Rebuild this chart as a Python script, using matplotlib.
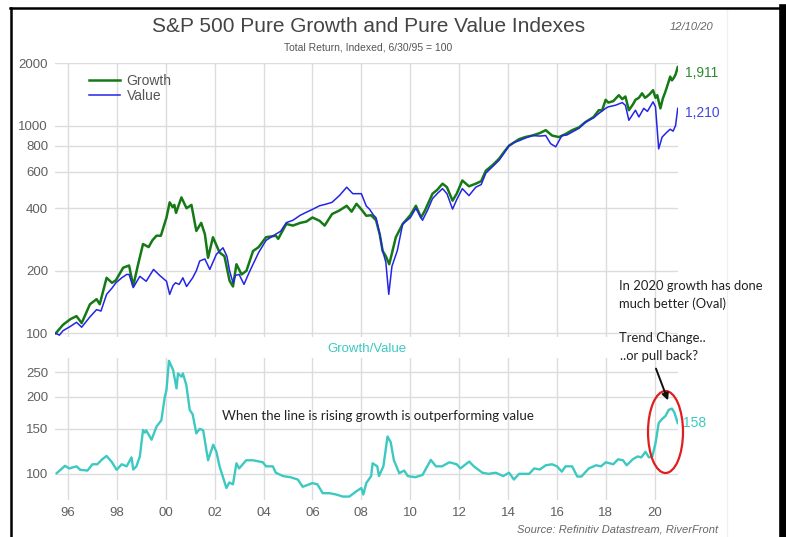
import matplotlib
matplotlib.use("Agg")
import matplotlib.pyplot as plt
from matplotlib.patches import Ellipse
from matplotlib.lines import Line2D
from matplotlib.ticker import FixedLocator, NullLocator, NullFormatter

# ---------------- data ----------------
growth_t = [1995.50, 1995.80, 1996.10, 1996.35, 1996.56, 1996.90, 1997.17, 1997.30, 1997.58, 1997.80,
            1997.96, 1998.26, 1998.50, 1998.67, 1998.85, 1999.07, 1999.30, 1999.45, 1999.62, 1999.80,
            2000.03, 2000.16, 2000.28, 2000.35, 2000.42, 2000.64, 2000.85, 2001.05, 2001.25, 2001.45,
            2001.60, 2001.73, 2001.93, 2002.20, 2002.40, 2002.61, 2002.75, 2002.89, 2003.10, 2003.30,
            2003.57, 2003.80, 2004.10, 2004.50, 2004.60, 2004.93, 2005.20, 2005.50, 2005.75, 2006.00,
            2006.29, 2006.50, 2006.80, 2007.10, 2007.40, 2007.60, 2007.80, 2008.00, 2008.20, 2008.40,
            2008.60, 2008.75, 2008.87, 2009.00, 2009.14, 2009.41, 2009.69, 2010.00, 2010.23, 2010.44,
            2010.60, 2010.91, 2011.10, 2011.32, 2011.50, 2011.73, 2011.90, 2012.13, 2012.40, 2012.68,
            2012.90, 2013.09, 2013.40, 2013.63, 2013.85, 2014.04, 2014.25, 2014.45, 2014.70, 2014.99,
            2015.30, 2015.54, 2015.80, 2016.08, 2016.35, 2016.62, 2016.90, 2017.17, 2017.50, 2017.71,
            2017.85, 2017.99, 2018.10, 2018.30, 2018.53, 2018.67, 2018.80, 2018.94, 2019.10, 2019.21,
            2019.35, 2019.48, 2019.60, 2019.68, 2019.80, 2019.93, 2020.03, 2020.10, 2020.23, 2020.33,
            2020.43, 2020.57, 2020.63, 2020.70, 2020.77, 2020.85, 2020.94]
growth_v = [100, 110, 117, 121, 112, 138, 146, 138, 185, 175,
            180, 207, 212, 169, 210, 269, 260, 280, 295, 295,
            361, 427, 405, 415, 380, 451, 400, 415, 311, 340,
            300, 231, 290, 245, 235, 179, 168, 215, 192, 200,
            249, 260, 290, 295, 285, 336, 330, 340, 345, 361,
            348, 330, 375, 390, 411, 385, 420, 395, 368, 370,
            350, 300, 249, 235, 215, 290, 336, 370, 411, 361,
            390, 470, 490, 525, 505, 435, 470, 544, 510, 525,
            540, 606, 650, 692, 750, 800, 830, 860, 880, 895,
            920, 950, 895, 880, 910, 950, 980, 1040, 1100, 1185,
            1185, 1330, 1290, 1310, 1400, 1340, 1380, 1185, 1260, 1330,
            1360, 1430, 1360, 1380, 1420, 1480, 1360, 1400, 1210, 1350,
            1450, 1630, 1720, 1650, 1690, 1760, 1911]

value_t = [1995.50, 1995.65, 1995.80, 1996.10, 1996.35, 1996.56, 1996.90, 1997.17, 1997.35, 1997.58,
           1997.80, 1997.96, 1998.20, 1998.40, 1998.50, 1998.67, 1998.94, 1999.20, 1999.50, 1999.75,
           2000.03, 2000.16, 2000.30, 2000.40, 2000.55, 2000.70, 2000.85, 2001.10, 2001.25, 2001.39,
           2001.60, 2001.80, 2002.07, 2002.34, 2002.50, 2002.61, 2002.75, 2002.85, 2003.00, 2003.20,
           2003.40, 2003.57, 2003.80, 2004.10, 2004.30, 2004.50, 2004.70, 2004.93, 2005.20, 2005.50,
           2005.74, 2006.00, 2006.29, 2006.60, 2006.80, 2007.10, 2007.40, 2007.65, 2008.00, 2008.20,
           2008.33, 2008.50, 2008.60, 2008.75, 2008.87, 2009.00, 2009.12, 2009.25, 2009.47, 2009.69,
           2010.00, 2010.23, 2010.50, 2010.70, 2010.91, 2011.10, 2011.32, 2011.50, 2011.73, 2011.90,
           2012.13, 2012.40, 2012.68, 2012.90, 2013.09, 2013.40, 2013.63, 2013.85, 2014.04, 2014.25,
           2014.45, 2014.70, 2014.99, 2015.30, 2015.54, 2015.74, 2015.95, 2016.20, 2016.40, 2016.62,
           2016.90, 2017.17, 2017.50, 2017.71, 2017.99, 2018.10, 2018.40, 2018.67, 2018.80, 2018.94,
           2019.21, 2019.35, 2019.55, 2019.70, 2019.93, 2020.03, 2020.16, 2020.30, 2020.50, 2020.63,
           2020.75, 2020.85, 2020.94]
value_v = [100, 98, 103, 108, 113, 107, 120, 130, 128, 154,
           165, 175, 185, 192, 192, 166, 188, 178, 203, 190,
           178, 154, 170, 175, 172, 185, 168, 185, 200, 223,
           228, 203, 240, 258, 235, 200, 175, 190, 192, 172,
           195, 215, 245, 280, 290, 300, 310, 341, 350, 370,
           382, 395, 411, 420, 427, 460, 505, 470, 470, 410,
           396, 370, 360, 300, 250, 220, 154, 210, 250, 336,
           360, 400, 350, 390, 445, 470, 497, 470, 396, 440,
           497, 460, 505, 520, 590, 640, 680, 740, 800, 830,
           845, 870, 895, 890, 895, 818, 790, 895, 900, 930,
           970, 1040, 1090, 1143, 1210, 1230, 1253, 1290, 1250, 1060,
           1185, 1100, 1210, 1170, 1300, 1230, 772, 880, 930, 960,
           940, 1000, 1210]

ratio_t = [1995.54, 1995.88, 1996.05, 1996.20, 1996.35, 1996.50, 1996.80, 1997.00, 1997.20, 1997.40,
           1997.58, 1997.80, 1997.99, 1998.20, 1998.40, 1998.60, 1998.67, 1998.80, 1998.94, 1999.07,
           1999.15, 1999.20, 1999.42, 1999.62, 1999.82, 1999.96, 2000.03, 2000.13, 2000.30, 2000.44,
           2000.50, 2000.64, 2000.70, 2000.84, 2000.98, 2001.10, 2001.25, 2001.39, 2001.53, 2001.73,
           2001.94, 2002.07, 2002.20, 2002.48, 2002.60, 2002.75, 2002.89, 2003.00, 2003.29, 2003.57,
           2003.97, 2004.10, 2004.38, 2004.50, 2004.80, 2005.10, 2005.40, 2005.60, 2006.00, 2006.20,
           2006.42, 2006.70, 2006.97, 2007.24, 2007.51, 2007.80, 2008.00, 2008.08, 2008.20, 2008.40,
           2008.46, 2008.65, 2008.72, 2008.90, 2009.07, 2009.20, 2009.33, 2009.55, 2009.75, 2009.90,
           2010.20, 2010.50, 2010.84, 2011.05, 2011.30, 2011.60, 2011.90, 2012.05, 2012.41, 2012.60,
           2012.95, 2013.20, 2013.50, 2013.80, 2014.04, 2014.24, 2014.45, 2014.86, 2015.07, 2015.30,
           2015.54, 2015.80, 2016.00, 2016.20, 2016.35, 2016.62, 2016.83, 2017.00, 2017.30, 2017.60,
           2017.80, 2018.00, 2018.30, 2018.50, 2018.70, 2018.85, 2019.10, 2019.30, 2019.45, 2019.62,
           2019.76, 2019.90, 2020.03, 2020.16, 2020.30, 2020.43, 2020.57, 2020.70, 2020.80, 2020.94]
ratio_v = [100.6, 107.5, 105, 106, 107, 103.7, 103, 109, 109, 114,
           117.5, 111, 103.7, 109, 107, 116, 104, 107, 117, 148.5,
           145, 148, 136, 153, 162, 200, 213, 277, 255, 216,
           247, 240, 247, 223, 178, 171, 144, 150, 148, 113,
           130, 122, 107, 88, 92.5, 91, 110, 105, 113, 113,
           111, 107, 107, 101, 98, 97, 95, 89, 92, 91,
           84, 84, 83, 81.5, 81.5, 85.5, 88, 83, 92, 98,
           110, 107, 98, 107, 140, 133, 113, 100.6, 103, 98,
           97, 99, 113.4, 107, 107, 111, 109, 105, 111.7, 107,
           101, 100, 101, 98, 101, 95, 100, 100, 105, 104,
           108, 109, 107, 102, 107, 107, 97.6, 97.6, 105, 108,
           107, 111, 109, 114, 113, 108, 114, 117, 116, 122,
           116, 117, 131.8, 158, 164, 168, 178, 180, 174, 158]

year_ticks = [1996, 1998, 2000, 2002, 2004, 2006, 2008, 2010, 2012, 2014, 2016, 2018, 2020]
year_labels = ["96", "98", "00", "02", "04", "06", "08", "10", "12", "14", "16", "18", "20"]
top_ticks = [100, 200, 400, 600, 800, 1000, 2000]
bottom_ticks = [100, 150, 200, 250]

# ---------------- style ----------------
FONT = ["Liberation Sans", "DejaVu Sans"]
NOTE_FONT = ["Lato", "DejaVu Sans"]
GREEN = "#157a15"
BLUE = "#2424e6"
CYAN = "#3cc9c1"
GRID = "#dcdcdc"
TICKC = "#606060"

W, H = 786, 537
fig = plt.figure(figsize=(W / 100, H / 100), dpi=100)
fig.patch.set_facecolor("white")

def fx(px):
    return px / W

def fy(py):
    return 1 - py / H

XMIN, XMAX = 1995.47, 2020.95

ax1 = fig.add_axes([fx(55), fy(337), fx(678) - fx(55), fy(63) - fy(337)])
ax2 = fig.add_axes([fx(55), fy(500), fx(678) - fx(55), fy(358) - fy(500)])

for ax in (ax1, ax2):
    ax.set_facecolor("none")
    for s in ax.spines.values():
        s.set_visible(False)
    ax.set_yscale("log")
    ax.set_xlim(XMIN, XMAX)
    ax.xaxis.set_major_locator(FixedLocator(year_ticks))
    ax.yaxis.set_minor_locator(NullLocator())
    ax.yaxis.set_minor_formatter(NullFormatter())
    ax.grid(True, which="major", color=GRID, lw=1.0)
    ax.set_axisbelow(True)
    ax.tick_params(length=0, labelsize=9.5, labelcolor=TICKC, pad=5)

ax1.set_ylim(96, 2000)
ax1.yaxis.set_major_locator(FixedLocator(top_ticks))
ax1.set_yticklabels([str(v) for v in top_ticks], family=FONT)
ax1.set_xticklabels([])

ax2.set_ylim(79, 284)
ax2.yaxis.set_major_locator(FixedLocator(bottom_ticks))
ax2.set_yticklabels([str(v) for v in bottom_ticks], family=FONT)
ax2.set_xticklabels(year_labels, family=FONT)

ax1.plot(growth_t, growth_v, color=GREEN, lw=1.8, zorder=3, solid_joinstyle="round")
ax1.plot(value_t, value_v, color=BLUE, lw=1.1, zorder=4, solid_joinstyle="round")
ax2.plot(ratio_t, ratio_v, color=CYAN, lw=1.7, zorder=3, solid_joinstyle="round")

# end labels
ax1.annotate("1,911", xy=(growth_t[-1], growth_v[-1]), xytext=(5, -4), textcoords="offset points",
             color="#2e8a2e", fontsize=10, family=FONT, va="center", ha="left", annotation_clip=False)
ax1.annotate("1,210", xy=(value_t[-1], value_v[-1]), xytext=(5, -3), textcoords="offset points",
             color="#4545e0", fontsize=10, family=FONT, va="center", ha="left", annotation_clip=False)
ax2.annotate("158", xy=(ratio_t[-1], ratio_v[-1]), xytext=(4, 0), textcoords="offset points",
             color=CYAN, fontsize=10, family=FONT, va="center", ha="left", annotation_clip=False)

# legend
handles = [Line2D([], [], color=GREEN, lw=1.8), Line2D([], [], color=BLUE, lw=1.1)]
leg = ax1.legend(handles, ["Growth", "Value"], loc="upper left", bbox_to_anchor=(fx(89), fy(74)),
                 bbox_transform=fig.transFigure, frameon=False, prop={"family": FONT, "size": 10},
                 handlelength=2.2, handletextpad=0.5, labelspacing=0.05, borderpad=0, borderaxespad=0)
for t in leg.get_texts():
    t.set_color("#555555")

# titles
fig.text(fx(369), fy(27), "S&P 500 Pure Growth and Pure Value Indexes", ha="center", va="center",
         fontsize=15, color="#444444", family=FONT)
fig.text(fx(368), fy(48), "Total Return, Indexed, 6/30/95 = 100", ha="center", va="center",
         fontsize=7.5, color="#555555", family=FONT)
fig.text(fx(713), fy(27), "12/10/20", ha="right", va="center", fontsize=8, color="#666666",
         style="italic", family=FONT)
fig.text(fx(367), fy(349), "Growth/Value", ha="center", va="center", fontsize=9.5, color=CYAN, family=FONT)
fig.text(fx(718), fy(529), "Source: Refinitiv Datastream, RiverFront", ha="right", va="center",
         fontsize=8, color="#666666", style="italic", family=FONT)

# annotations
fig.text(fx(222), fy(416), "When the line is rising growth is outperforming value", ha="left", va="center",
         fontsize=9.6, color="#222222", family=NOTE_FONT)
fig.text(fx(619), fy(286), "In 2020 growth has done", ha="left", va="center", fontsize=9.4,
         color="#222222", family=NOTE_FONT)
fig.text(fx(619), fy(304), "much better (Oval)", ha="left", va="center", fontsize=9.4,
         color="#222222", family=NOTE_FONT)
fig.text(fx(619), fy(338), "Trend Change..", ha="left", va="center", fontsize=9.4,
         color="#222222", family=NOTE_FONT)
fig.text(fx(620), fy(356), "..or pull back?", ha="left", va="center", fontsize=9.4,
         color="#222222", family=NOTE_FONT)

fig.add_artist(Ellipse((fx(665.5), fy(432)), 35 / W, 82 / H, transform=fig.transFigure,
                       fill=False, edgecolor="#e01e1e", lw=1.6, clip_on=False))
arr = matplotlib.patches.FancyArrowPatch((fx(655), fy(366)), (fx(669), fy(403)),
                                         transform=fig.transFigure, arrowstyle="-|>",
                                         mutation_scale=10, color="#111111", lw=1.4)
fig.add_artist(arr)

# frame of the screenshot
fig.add_artist(Line2D([fx(727), fx(727)], [0, fy(9)], transform=fig.transFigure, color="#f0f0f0", lw=1))
fig.add_artist(Line2D([fx(10.5), fx(10.5)], [0, fy(8)], transform=fig.transFigure, color="black", lw=1.8))
fig.add_artist(Line2D([fx(10), fx(782)], [fy(8), fy(8)], transform=fig.transFigure, color="black", lw=1.8))
fig.add_artist(Line2D([fx(782.5), fx(782.5)], [0, fy(8)], transform=fig.transFigure, color="black", lw=5.5))

fig.savefig("out.png", dpi=100)
